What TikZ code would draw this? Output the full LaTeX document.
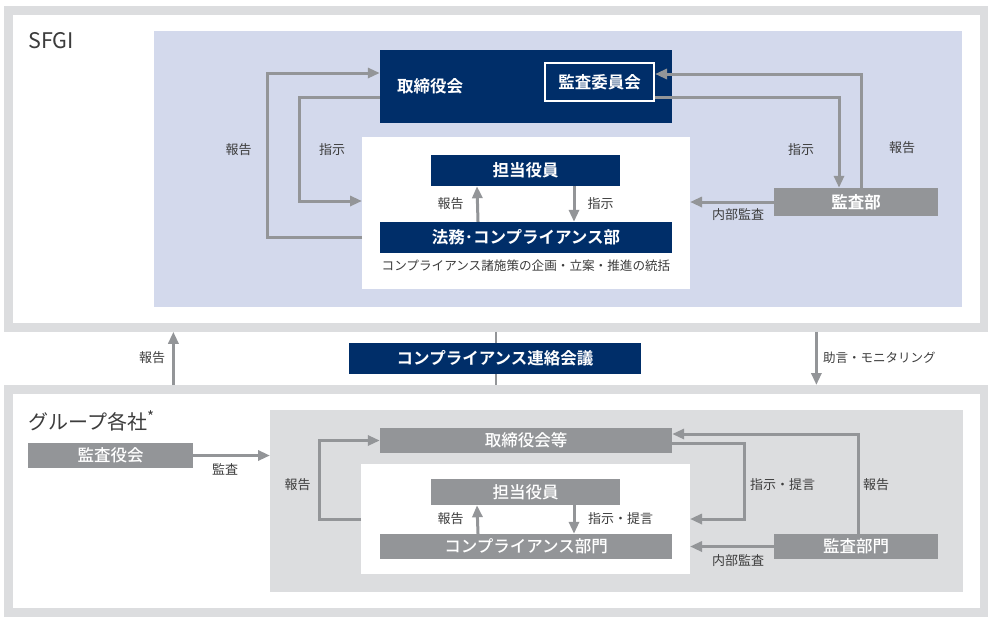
\documentclass[tikz,border=0pt]{standalone}
\usepackage{fontspec}
\setmainfont{Noto Sans CJK JP}[BoldFont={Noto Sans CJK JP Bold}]
\newfontfamily\jpmedium{Noto Sans CJK JP Medium}
\usepackage{xcolor}
\usetikzlibrary{arrows.meta}

\definecolor{navy}{RGB}{0,46,105}
\definecolor{boxgray}{RGB}{147,149,152}
\definecolor{framegray}{RGB}{220,221,223}
\definecolor{lavender}{RGB}{211,217,236}
\definecolor{labelgray}{RGB}{60,60,60}

\tikzset{
    panel/.style={draw=framegray, line width=8.75pt, fill=white, inner sep=0pt, anchor=north west},
    zone/.style={inner sep=0pt, outer sep=0pt, anchor=north west},
    navybox/.style={fill=navy, text=white, inner sep=0pt,
        font=\fontsize{16.5}{16.5}\selectfont\bfseries},
    graybox/.style={fill=boxgray, text=white, inner sep=0pt,
        font=\fontsize{16.5}{16.5}\selectfont\jpmedium},
    lbl/.style={text=labelgray, inner sep=0pt, font=\fontsize{13}{13}\selectfont},
    garrow/.style={draw=boxgray, line width=3pt, -{Triangle[length=12pt,width=10pt]}},
}

\begin{document}
\begin{tikzpicture}[x=1pt, y=-1pt]
    \useasboundingbox (0,0) rectangle (992,622);

    % frames
    \node[panel, minimum width=975.5pt, minimum height=317pt] (sfgi) at (4,6) {};
    \node[panel, minimum width=975.5pt, minimum height=223pt] (group) at (4,385) {};
    \node[anchor=west, inner sep=0pt, text=labelgray, font=\fontsize{21.5}{21.5}\selectfont] (sfginame) at (28,41) {SFGI};
    \node[anchor=west, inner sep=0pt, text=labelgray, font=\fontsize{20}{20}\selectfont] (groupname) at (28,421)
        {グループ各社\raisebox{0.35em}{\fontsize{15}{15}\selectfont *}};

    % SFGI
    \node[zone, fill=lavender, minimum width=808pt, minimum height=276pt] (sfgiarea) at (154,31) {};
    \node[zone, fill=white, minimum width=328pt, minimum height=152pt] (wb) at (362,137) {};

    \node[navybox, minimum width=292pt, minimum height=73pt, text width=258pt, align=left] (board) at (526,86.5) {取締役会};
    \node[navybox, draw=white, line width=2pt, minimum width=109pt, minimum height=38pt] (iinkai) at (599.5,82) {監査委員会};
    \node[navybox, minimum width=189pt, minimum height=31pt] (tanto) at (525.5,170.5) {担当役員};
    \node[navybox, minimum width=292pt, minimum height=31pt] (homu) at (526,237.5) {法務･コンプライアンス部};
    \node[inner sep=0pt, text=labelgray, font=\fontsize{12.6}{12.6}\selectfont] (homutext) at (526,266)
        {コンプライアンス諸施策の企画・立案・推進の統括};
    \node[graybox, font=\fontsize{16.5}{16.5}\selectfont\bfseries, minimum width=164pt, minimum height=28pt] (kansabu) at (856,202) {監査部};

    \draw[garrow] (wb.west |- homu) -- ++(-95,0) |- ([yshift=13.5pt]board.west);
    \draw[garrow] ([yshift=-10.5pt]board.west) -- ++(-80,0) |- ([yshift=12pt]wb.west);
    \draw[garrow] ([xshift=-48pt]homu.north) -- ([xshift=-48.5pt]tanto.south);
    \draw[garrow] ([xshift=48.5pt]tanto.south) -- ([xshift=48pt]homu.north);
    \draw[garrow] ([xshift=5pt]kansabu.north) |- ([yshift=8pt]iinkai.east);
    \draw[garrow] ([yshift=-15pt]iinkai.east) -| ([xshift=-17pt]kansabu.north);
    \draw[garrow] (kansabu.west) -- (wb.east |- kansabu.west);

    \node[lbl] (lblA) at (238.5,150) {報告};
    \node[lbl] (lblB) at (332,150) {指示};
    \node[lbl] (lblC) at (450.5,204) {報告};
    \node[lbl] (lblD) at (600.5,204) {指示};
    \node[lbl] (lblE) at (801,150) {指示};
    \node[lbl] (lblF) at (902,148) {報告};
    \node[lbl] (lblG) at (738,215) {内部監査};

    % between
    \draw[draw=boxgray, line width=2.5pt] (sfgi.south) -- (group.north);
    \node[navybox, minimum width=292pt, minimum height=31pt] (renraku) at (495,358.5) {コンプライアンス連絡会議};
    \draw[garrow] ([xshift=-322.75pt]group.north) -- ([xshift=-322.75pt]sfgi.south);
    \draw[garrow] ([xshift=320.25pt]sfgi.south) -- ([xshift=320.25pt]group.north);
    \node[lbl] (lblH) at (152,358) {報告};
    \node[lbl, anchor=west, font=\fontsize{12.5}{12.5}\selectfont] (lblI) at (823,358) {助言・モニタリング};

    % group
    \node[zone, fill=framegray, minimum width=693pt, minimum height=182pt] (grouparea) at (270,410) {};
    \node[zone, fill=white, minimum width=329pt, minimum height=110pt] (wb2) at (361,464) {};

    \node[graybox, minimum width=165pt, minimum height=25pt] (kansayaku) at (110.5,455.5) {監査役会};
    \node[graybox, minimum width=292pt, minimum height=25pt] (board2) at (526,440.5) {取締役会等};
    \node[graybox, minimum width=189pt, minimum height=26pt] (tanto2) at (525.5,492) {担当役員};
    \node[graybox, minimum width=292pt, minimum height=25pt] (compdept) at (526,546.5) {コンプライアンス部門};
    \node[graybox, minimum width=164pt, minimum height=25pt] (kansabumon) at (856,546.5) {監査部門};

    \draw[garrow] (kansayaku.east) -- (grouparea.west |- kansayaku.east);
    \draw[garrow] (wb2.west) -- ++(-42,0) |- (board2.west);
    \draw[garrow] ([xshift=-48pt]compdept.north) -- ([xshift=-48.5pt]tanto2.south);
    \draw[garrow] ([xshift=48.5pt]tanto2.south) -- ([xshift=48pt]compdept.north);
    \draw[garrow] ([yshift=-2.5pt]board2.east) -- ++(72,0) |- (wb2.east);
    \draw[garrow] ([xshift=2pt]kansabumon.north) |- ([yshift=6.5pt]board2.east);
    \draw[garrow] (kansabumon.west) -- (wb2.east |- kansabumon.west);

    \node[lbl] (lblJ) at (225,469) {監査};
    \node[lbl] (lblK) at (297.5,485) {報告};
    \node[lbl] (lblL) at (450.5,519) {報告};
    \node[lbl] (lblM) at (620.5,519) {指示・提言};
    \node[lbl] (lblN) at (782.5,485) {指示・提言};
    \node[lbl] (lblO) at (876,485) {報告};
    \node[lbl] (lblP) at (738,561) {内部監査};
\end{tikzpicture}
\end{document}
